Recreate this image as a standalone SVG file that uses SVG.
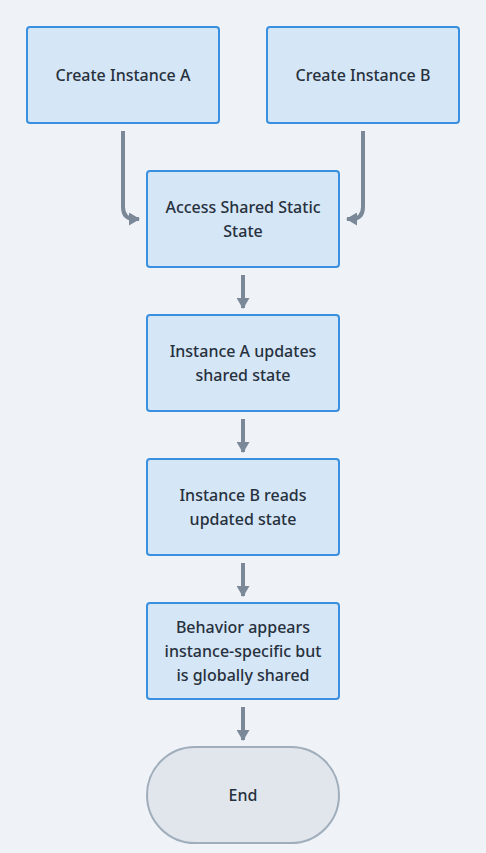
<svg xmlns="http://www.w3.org/2000/svg" width="486" height="853" viewBox="0 0 486 853">
<style>
.bg{fill:#eff3f7}
.box{fill:#d5e6f6;stroke:#3a8fdf;stroke-width:2}
.end{fill:#e1e5ec;stroke:#a0adbb;stroke-width:2}
.t{font-family:"Noto Sans","Liberation Sans",sans-serif;font-size:16px;font-weight:500;fill:#27313d;text-anchor:middle}
.c{fill:none;stroke:#7b8898;stroke-width:4}
</style>
<defs>
<marker id="ah" viewBox="0 0 11 13" refX="10" refY="6.5" markerWidth="11" markerHeight="13" orient="auto" markerUnits="userSpaceOnUse">
<path d="M0,0 L11,6.5 L0,13 z" fill="#7b8898"/>
</marker>
</defs>
<rect class="bg" width="486" height="853"/>
<g id="connectors">
<path class="c" d="M123,131 V207 Q123,219 135,219 H139" marker-end="url(#ah)"/>
<path class="c" d="M363,131 V207 Q363,219 351,219 H347" marker-end="url(#ah)"/>
<path class="c" d="M243,275 V308" marker-end="url(#ah)"/>
<path class="c" d="M243,419 V452" marker-end="url(#ah)"/>
<path class="c" d="M243,563 V596" marker-end="url(#ah)"/>
<path class="c" d="M243,707 V740" marker-end="url(#ah)"/>
</g>
<g id="nodeA"><rect class="box" x="27" y="27" width="192" height="96" rx="3"/><text class="t" x="123" y="81">Create Instance A</text></g>
<g id="nodeB"><rect class="box" x="267" y="27" width="192" height="96" rx="3"/><text class="t" x="363" y="81">Create Instance B</text></g>
<g id="access"><rect class="box" x="147" y="171" width="192" height="96" rx="3"/><text class="t" x="243" y="213">Access Shared Static</text><text class="t" x="243" y="237">State</text></g>
<g id="updates"><rect class="box" x="147" y="315" width="192" height="96" rx="3"/><text class="t" x="243" y="357">Instance A updates</text><text class="t" x="243" y="381">shared state</text></g>
<g id="reads"><rect class="box" x="147" y="459" width="192" height="96" rx="3"/><text class="t" x="243" y="501">Instance B reads</text><text class="t" x="243" y="525">updated state</text></g>
<g id="behavior"><rect class="box" x="147" y="603" width="192" height="96" rx="3"/><text class="t" x="243" y="633">Behavior appears</text><text class="t" x="243" y="657">instance-specific but</text><text class="t" x="243" y="681">is globally shared</text></g>
<g id="endNode"><rect class="end" x="147" y="747" width="192" height="96" rx="48"/><text class="t" x="243" y="801">End</text></g>
</svg>
